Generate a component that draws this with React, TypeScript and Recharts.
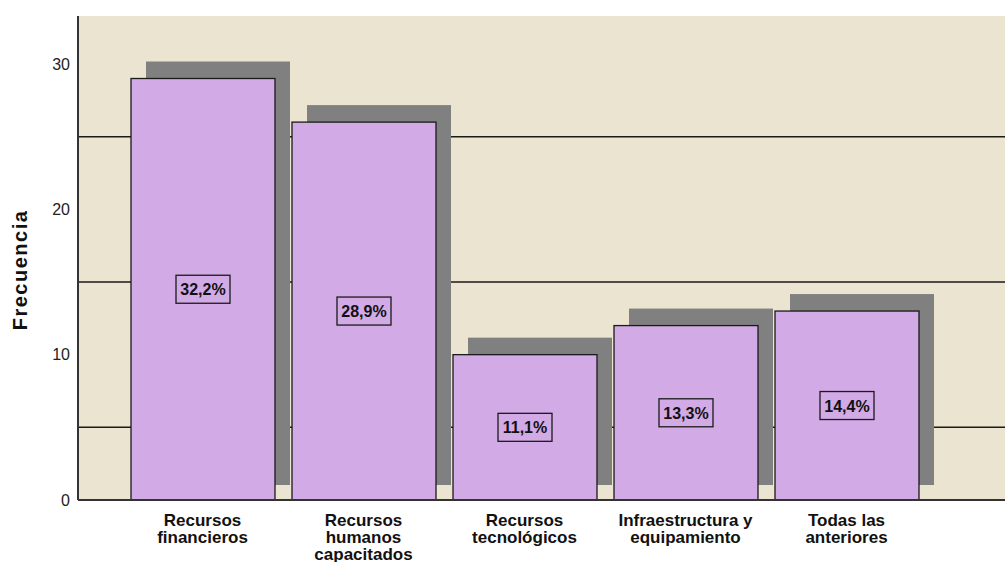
import React from "react";
import { Bar, BarChart, CartesianGrid, LabelList, XAxis, YAxis } from "recharts";

const categories = [
  "Recursos financieros",
  "Recursos humanos capacitados",
  "Recursos tecnológicos",
  "Infraestructura y equipamiento",
  "Todas las anteriores"
];
const categoryLines = [
  ["Recursos", "financieros"],
  ["Recursos", "humanos", "capacitados"],
  ["Recursos", "tecnológicos"],
  ["Infraestructura y", "equipamiento"],
  ["Todas las", "anteriores"]
];
const frequencies = [29, 26, 10, 12, 13];
const percentLabels = ["32,2%", "28,9%", "11,1%", "13,3%", "14,4%"];
const yTicks = [0, 10, 20, 30];
const gridValues = [5, 15, 25];

const data = categories.map((name, i) => ({
  name,
  value: frequencies[i],
  pct: percentLabels[i]
}));

const font = "Arial, 'Liberation Sans', sans-serif";
const beige = "#EAE4D0";
const lilac = "#D2AAE5";
const shadow = "#808080";

function ShadowBar(props: any) {
  const { x, y, width, height } = props;
  return (
    <g>
      <rect x={x + 15} y={y - 17} width={width} height={height + 2} fill={shadow} />
      <rect x={x} y={y} width={width} height={height} fill={lilac} stroke="#1a1a1a" strokeWidth={1.3} />
    </g>
  );
}

function PctLabel(props: any) {
  const { x, y, width, height, value } = props;
  const cx = x + width / 2;
  const cy = y + height / 2;
  return (
    <g>
      <rect x={cx - 27} y={cy - 14} width={54} height={28} fill="none" stroke="#1a1a1a" strokeWidth={1.3} />
      <text x={cx} y={cy + 6} textAnchor="middle" fontSize={16} fontWeight="bold" fill="#111" fontFamily={font}>
        {value}
      </text>
    </g>
  );
}

function CategoryTick(props: any) {
  const { x, index } = props;
  const lines = categoryLines[index] || [];
  return (
    <g>
      {lines.map((line, i) => (
        <text
          key={i}
          x={x}
          y={526 + i * 16.8}
          textAnchor="middle"
          fontSize={17}
          fontWeight="bold"
          fill="#111"
          fontFamily={font}
        >
          {line}
        </text>
      ))}
    </g>
  );
}

function YTitle() {
  return (
    <text
      x={27}
      y={270}
      transform="rotate(-90 27 270)"
      textAnchor="middle"
      fontSize={20}
      fontWeight="bold"
      letterSpacing={1.5}
      fill="#111"
      fontFamily={font}
    >
      Frecuencia
    </text>
  );
}

export default function App() {
  return (
    <div style={{ position: "absolute", left: 0, top: 0, width: 1005, height: 562, background: "#fff" }}>
      <BarChart
        width={1005}
        height={562}
        data={data}
        margin={{ top: 16, right: 0, bottom: 0, left: 0 }}
        barSize={144}
        style={{ fontFamily: font }}
      >
        <CartesianGrid
          vertical={false}
          horizontalValues={gridValues}
          stroke="#1a1a1a"
          strokeWidth={1.5}
          fill={beige}
          fillOpacity={1}
        />
        <XAxis
          dataKey="name"
          height={62}
          tick={<CategoryTick />}
          tickLine={false}
          axisLine={{ stroke: "#333", strokeWidth: 2 }}
          padding={{ left: 44, right: 78 }}
          interval={0}
        />
        <YAxis
          width={78}
          domain={[0, 33.3]}
          ticks={yTicks}
          tickLine={false}
          axisLine={{ stroke: "#333", strokeWidth: 2 }}
          tick={{ fontSize: 16, fill: "#222", fontFamily: font }}
        />
        <Bar dataKey="value" shape={<ShadowBar />} isAnimationActive={false}>
          <LabelList dataKey="pct" content={<PctLabel />} />
        </Bar>
        <YTitle />
      </BarChart>
    </div>
  );
}
